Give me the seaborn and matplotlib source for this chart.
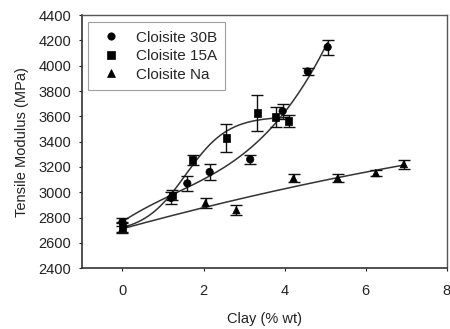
import numpy as np
import pandas as pd
import matplotlib
matplotlib.use("Agg")
import matplotlib.pyplot as plt
import seaborn as sns

# Data
series_names = ["Cloisite 30B", "Cloisite 15A", "Cloisite Na"]

x_30b = [0.0, 1.2, 1.6, 2.15, 3.15, 3.95, 4.57, 5.06]
y_30b = [2765, 2955, 3070, 3160, 3260, 3641, 3955, 4147]
e_30b = [30, 50, 60, 60, 35, 60, 30, 60]

x_15a = [0.0, 1.23, 1.73, 2.56, 3.33, 3.78, 4.1]
y_15a = [2725, 2975, 3254, 3428, 3625, 3594, 3562]
e_15a = [40, 40, 40, 110, 140, 80, 45]

x_na = [0.0, 2.05, 2.81, 4.22, 5.31, 6.25, 6.94]
y_na = [2715, 2914, 2858, 3111, 3111, 3151, 3222]
e_na = [40, 40, 40, 30, 30, 25, 35]

x_ticks = [0, 2, 4, 6, 8]
y_ticks = list(range(2400, 4401, 200))

sns.set_style("ticks")
plt.rcParams["font.family"] = ["Liberation Sans", "DejaVu Sans"]

fig = plt.figure(figsize=(4.5, 3.29), dpi=100)
ax = fig.add_axes([0.182, 0.185, 0.811, 0.769])

data = {
    "Cloisite 30B": (x_30b, y_30b, e_30b),
    "Cloisite 15A": (x_15a, y_15a, e_15a),
    "Cloisite Na": (x_na, y_na, e_na),
}
rows = []
for name, (xs, ys, es) in data.items():
    for xv, yv, ev in zip(xs, ys, es):
        rows.append({"clay": xv, "modulus": yv, "err": ev, "series": name})
df = pd.DataFrame(rows)

markers = {"Cloisite 30B": "o", "Cloisite 15A": "s", "Cloisite Na": "^"}


def poly_fit(xs, ys, deg):
    coef = np.polyfit(xs, ys, deg)
    return lambda xx: np.polyval(coef, xx)


def sigmoid_fit(xs, ys):
    xs = np.asarray(xs, float)
    ys = np.asarray(ys, float)
    best = None
    for c in np.linspace(0.5, 3.0, 126):
        for d in np.linspace(0.15, 1.5, 136):
            s = 1.0 / (1.0 + np.exp(-(xs - c) / d))
            A = np.column_stack([np.ones_like(s), s])
            sol, *_ = np.linalg.lstsq(A, ys, rcond=None)
            r = np.sum((A @ sol - ys) ** 2)
            if best is None or r < best[0]:
                best = (r, c, d, sol)
    _, c, d, (a, b) = best
    return lambda xx: a + b / (1.0 + np.exp(-(xx - c) / d))


fits = {
    "Cloisite 30B": poly_fit(x_30b, y_30b, 3),
    "Cloisite 15A": sigmoid_fit(x_15a, y_15a),
    "Cloisite Na": poly_fit(x_na, y_na, 2),
}

fit_rows = []
for name, (xs, ys, es) in data.items():
    xx = np.linspace(min(xs), max(xs), 200)
    for xv, yv in zip(xx, fits[name](xx)):
        fit_rows.append({"clay": xv, "modulus": yv, "series": name})
fit_df = pd.DataFrame(fit_rows)
sns.lineplot(data=fit_df, x="clay", y="modulus", units="series", estimator=None,
             color="#333333", lw=1.1, ax=ax, legend=False)

for name, (xs, ys, es) in data.items():
    ax.errorbar(xs, ys, yerr=es, fmt="none", ecolor="#111111", elinewidth=1.0,
                capsize=4.5, capthick=1.0, zorder=3)

sns.scatterplot(data=df, x="clay", y="modulus", style="series", markers=markers,
                style_order=series_names, color="black", s=28, edgecolor="black",
                linewidth=0.5, ax=ax, zorder=4)

ax.set_xlim(-1, 8)
ax.set_ylim(2400, 4400)
ax.set_xticks(x_ticks)
ax.set_yticks(y_ticks)
ax.tick_params(axis="both", labelsize=10.5, colors="#222222", length=2.5, width=0.8)
ax.tick_params(axis="y", pad=5)
ax.tick_params(axis="x", pad=9)
ax.set_xlabel("Clay (% wt)", fontsize=10.5, color="#222222", labelpad=10)
ax.set_ylabel("Tensile Modulus (MPa)", fontsize=10.5, color="#222222", labelpad=7)

for side in ["left", "bottom"]:
    ax.spines[side].set_color("#333333")
    ax.spines[side].set_linewidth(1.2)
for side in ["top", "right"]:
    ax.spines[side].set_visible(True)
    ax.spines[side].set_color("#555555")
    ax.spines[side].set_linewidth(1.0)

leg = ax.legend(loc="upper left", bbox_to_anchor=(0.016, 0.972), fontsize=11,
                frameon=True, fancybox=False, edgecolor="#888888",
                handletextpad=0.6, borderpad=0.55, labelspacing=0.3,
                handlelength=2.0, borderaxespad=0.0)
leg.get_frame().set_linewidth(0.8)

fig.savefig("out.png", dpi=100)
